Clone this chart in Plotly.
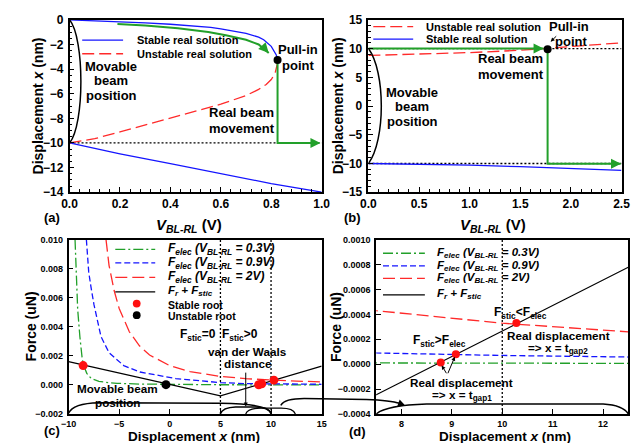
import plotly.graph_objects as go

W, H = 641, 443
FONT = "Liberation Sans"
BLUE = "#1515ff"
RED = "#ff2a2a"
GREEN = "#22a02a"

# ---------------- data (a) ----------------
a_v_stable_up = [0.0, 0.1, 0.2, 0.3, 0.4, 0.5, 0.56, 0.6, 0.65, 0.7, 0.75, 0.77, 0.8, 0.81, 0.82, 0.825]
a_x_stable_up = [0.0, -0.06, -0.13, -0.24, -0.36, -0.5, -0.62, -0.74, -0.9, -1.1, -1.4, -1.62, -2.15, -2.45, -2.85, -3.27]
a_v_unstable = [0.0, 0.1, 0.2, 0.3, 0.4, 0.5, 0.6, 0.7, 0.75, 0.78, 0.8, 0.815, 0.825]
a_x_unstable = [-10.0, -9.65, -9.1, -8.55, -8.0, -7.45, -6.85, -6.15, -5.65, -5.25, -4.85, -4.35, -3.5]
a_v_stable_low = [0.0, 0.2, 0.4, 0.6, 0.8, 1.0]
a_x_stable_low = [-10.0, -10.88, -11.68, -12.5, -13.3, -14.0]
a_v_green_up = [0.19, 0.3, 0.43, 0.55, 0.62, 0.7, 0.75, 0.79]
a_x_green_up = [-0.34, -0.45, -0.68, -0.98, -1.25, -1.62, -2.0, -2.7]
a_v_green_down = [0.825, 0.825, 0.99]
a_x_green_down = [-3.3, -10.0, -10.0]
a_pullin = (0.825, -3.27)
a_gap = -10.0

# ---------------- data (b) ----------------
b_v_unstable = [0.0, 0.5, 1.0, 1.5, 2.0, 2.5]
b_x_unstable = [8.8, 9.0, 9.3, 9.7, 10.3, 11.0]
b_v_stable = [0.0, 0.5, 1.0, 1.5, 2.0, 2.5]
b_x_stable = [-10.0, -10.1, -10.3, -10.55, -10.85, -11.2]
b_v_green_up = [0.0, 1.73]
b_x_green_up = [10.0, 10.0]
b_v_green_down = [1.77, 1.77, 2.49]
b_x_green_down = [9.9, -10.05, -10.05]
b_pullin = (1.77, 9.9)
b_gaps = [10.0, -10.0]

# ---------------- data (c)/(d) ----------------
f_x_03 = [-9.36, -9.2, -9.1, -8.88, -8.65, -8.5, -8.2, -7.76, -7.0, -6.0, -5.2, -3.0, 0.0, 5.0, 7.5, 10.0, 12.5, 15.0]
f_y_03 = [0.0100, 0.0075, 0.0052, 0.0033, 0.00178, 0.00132, 0.0008, 0.00044, 0.00025, 0.00015,
          0.00011, 0.00006, 0.00003, 0.000013, 0.0000099, 0.0000076, 0.000006, 0.0000048]
f_x_09 = [-8.24, -8.01, -7.8, -7.5, -6.8, -6.0, -4.55, -2.95, 0.58, 2.5, 5.0, 7.5, 10.0, 12.5, 15.0]
f_y_09 = [0.0100, 0.00778, 0.0068, 0.00556, 0.00333, 0.00222, 0.00133, 0.00089, 0.00044, 0.0003,
          0.00016, 0.00009, 0.00007, 0.000055, 0.000045]
f_x_2 = [-6.3, -6.0, -5.5, -5.0, -4.0, -3.0, -2.0, 0.0, 2.0, 5.0, 7.5, 10.0, 12.5, 15.0]
f_y_2 = [0.0100, 0.00822, 0.0065, 0.00526, 0.00366, 0.00269, 0.00206, 0.00132, 0.000914,
         0.000585, 0.00043, 0.000329, 0.00026, 0.000211]
fr_x = [-10.0, 5.0, 15.0]
fr_y = [0.0016, -0.000757, 0.00129]
stable_x = [-8.56, 8.78, 9.08, 10.28]
stable_y = [0.00133, 0.000013, 0.00008, 0.00033]
unstable_x = [-0.38]
unstable_y = [0.00002]
c_vlines = [5.0, 10.0]
d_vlines = [10.0]

def px(x):
    return x / W

def py(y):
    return 1 - y / H

fig = go.Figure()

def line(x, y, color, dash="solid", width=1.3, xa="x", ya="y"):
    fig.add_trace(go.Scatter(x=x, y=y, mode="lines", xaxis=xa, yaxis=ya, showlegend=False,
                             line=dict(color=color, dash=dash, width=width), hoverinfo="skip"))

def dots(x, y, color, size, xa, ya):
    fig.add_trace(go.Scatter(x=x, y=y, mode="markers", xaxis=xa, yaxis=ya, showlegend=False,
                             marker=dict(color=color, size=size, line=dict(width=0)), hoverinfo="skip"))

DOT = "2px,2px"
RDASH = "12px,5px"
BDASH = "6px,3px"
GDASHDOT = "10px,3px,2px,3px"

# (a)
line([0, 1.0], [a_gap, a_gap], "black", DOT, 1.3, "x", "y")
line(a_v_stable_low, a_x_stable_low, BLUE, "solid", 1.3, "x", "y")
line(a_v_unstable, a_x_unstable, RED, RDASH, 1.3, "x", "y")
line(a_v_stable_up, a_x_stable_up, BLUE, "solid", 1.3, "x", "y")
line(a_v_green_up, a_x_green_up, GREEN, "solid", 2, "x", "y")
line(a_v_green_down, a_x_green_down, GREEN, "solid", 2, "x", "y")
dots([a_pullin[0]], [a_pullin[1]], "black", 8, "x", "y")

# (b)
for g in b_gaps:
    line([0, 2.5], [g, g], "black", DOT, 1.3, "x2", "y2")
line(b_v_stable, b_x_stable, BLUE, "solid", 1.3, "x2", "y2")
line(b_v_unstable, b_x_unstable, RED, RDASH, 1.3, "x2", "y2")
line(b_v_green_up, b_x_green_up, GREEN, "solid", 2, "x2", "y2")
line(b_v_green_down, b_x_green_down, GREEN, "solid", 2, "x2", "y2")
dots([b_pullin[0]], [b_pullin[1]], "black", 8, "x2", "y2")

# (c) and (d)
for xa, ya, vls, yr in (("x3", "y3", c_vlines, [-0.002, 0.010]), ("x4", "y4", d_vlines, [-0.0004, 0.001])):
    for v in vls:
        line([v, v], yr, "black", DOT, 1.3, xa, ya)
    line(f_x_03, f_y_03, GREEN, GDASHDOT, 1.3, xa, ya)
    line(f_x_09, f_y_09, BLUE, BDASH, 1.3, xa, ya)
    line(f_x_2, f_y_2, RED, RDASH, 1.3, xa, ya)
    line(fr_x, fr_y, "black", "solid", 1.2, xa, ya)
    dots(stable_x, stable_y, "#ff1010", 9 if xa == "x3" else 8, xa, ya)
    if xa == "x3":
        dots(unstable_x, unstable_y, "black", 9, xa, ya)

tickfont_big = dict(family=FONT, size=12, color="black", weight="bold")
tickfont_small = dict(family=FONT, size=9, color="black", weight="bold")

def ax(domain, rng, dtick, fmt, tf, minor=None, anchor=None, tick0=None, standoff=2):
    d = dict(domain=domain, range=rng, dtick=dtick, tickformat=fmt, tickfont=tf,
             showline=True, linecolor="black", linewidth=1.5, mirror=True,
             ticks="inside", ticklen=5, tickcolor="black", tickwidth=1,
             showgrid=False, zeroline=False, anchor=anchor, ticklabelstandoff=standoff)
    if tick0 is not None:
        d["tick0"] = tick0
    if minor:
        d["minor"] = dict(dtick=minor, ticks="inside", ticklen=3, tickcolor="black", showgrid=False)
    return d

yA = [py(183), py(5)]
yC = [py(412), py(232)]
fig.update_layout(
    width=W, height=H, margin=dict(l=0, r=0, t=0, b=0),
    paper_bgcolor="white", plot_bgcolor="white", showlegend=False,
    xaxis=ax([px(55), px(314)], [0, 1.0], 0.2, ".1f", tickfont_big, 0.04, "y", standoff=0),
    yaxis=ax(yA, [-14, 0], 2, "d", tickfont_big, 0.5, "x"),
    xaxis2=ax([px(362), px(622)], [0, 2.5], 0.5, ".1f", tickfont_big, 0.1, "y2", standoff=0),
    yaxis2=ax(yA, [-15, 15], 5, "d", tickfont_big, 1, "x2"),
    xaxis3=ax([px(54), px(314)], [-10, 15], 5, "d", tickfont_small, None, "y3", standoff=0),
    yaxis3=ax(yC, [-0.002, 0.010], 0.002, ".3f", tickfont_small, None, "x3"),
    xaxis4=ax([px(370), px(629)], [7.5, 12.5], 1, "d", tickfont_small, None, "y4", 8, standoff=0),
    yaxis4=ax(yC, [-0.0004, 0.001], 0.0002, ".4f", tickfont_small, None, "x4"),
)

shapes = []
# brackets and braces
shapes.append(dict(type="path", xref="x", yref="y", path="M 0,0 C 0.06,-1.5 0.06,-8.5 0,-10",
                   line=dict(color="black", width=1.5)))
shapes.append(dict(type="path", xref="x2", yref="y2", path="M 0,10 C 0.17,6 0.17,-6 0,-10",
                   line=dict(color="black", width=1.5)))
shapes.append(dict(type="path", xref="x3", yref="y3",
                   path="M -10,-0.00195 Q -9.6,-0.00126 -7,-0.00122 L 5,-0.00126 Q 9.6,-0.0013 10,-0.0019",
                   line=dict(color="black", width=1.5)))
shapes.append(dict(type="path", xref="x3", yref="y3",
                   path="M 5,-0.002 Q 5.2,-0.00155 6.5,-0.00152 L 8.5,-0.00152 Q 9.8,-0.00155 10,-0.002",
                   line=dict(color="black", width=1.3)))
shapes.append(dict(type="path", xref="x3", yref="y3",
                   path="M 7.5,-0.002 Q 7.7,-0.0016 9,-0.0016 L 11,-0.0016 Q 12.2,-0.0016 12.4,-0.002",
                   line=dict(color="black", width=1.3)))
shapes.append(dict(type="path", xref="x4", yref="y4",
                   path="M 7.5,-0.0004 Q 7.7,-0.00033 8.5,-0.00032 L 12,-0.00032 Q 12.4,-0.00033 12.5,-0.0004",
                   line=dict(color="black", width=1.5)))
# connecting curve from (c) to (d)
shapes.append(dict(type="path", xref="paper", yref="paper",
                   path=f"M {px(272)},{py(403)} Q {px(276)},{py(396)} {px(296)},{py(396)} L {px(360)},{py(397)} Q {px(385)},{py(398)} {px(394)},{py(401)}",
                   line=dict(color="black", width=1.5)))

# manual legends
def leg_line(x0, x1, y, color, dash):
    shapes.append(dict(type="line", xref="paper", yref="paper", x0=px(x0), x1=px(x1), y0=py(y), y1=py(y),
                       line=dict(color=color, dash=dash, width=1.3)))

def leg_dot(x, y, color, r=4):
    shapes.append(dict(type="circle", xref="paper", yref="paper", x0=px(x - r), x1=px(x + r),
                       y0=py(y + r), y1=py(y - r), fillcolor=color, line=dict(color=color, width=0)))

leg_line(68, 110, 26, BLUE, "solid")
leg_line(68, 110, 40, RED, RDASH)
leg_line(367, 408, 12, RED, RDASH)
leg_line(367, 408, 25, BLUE, "solid")
leg_line(102, 143, 242, GREEN, GDASHDOT)
leg_line(102, 143, 256, BLUE, BDASH)
leg_line(102, 143, 271, RED, RDASH)
leg_line(102, 143, 286, "black", "solid")
leg_dot(124, 298, "#ff1010")
leg_dot(124, 310, "black")
leg_line(377, 420, 246, GREEN, GDASHDOT)
leg_line(377, 420, 259, BLUE, BDASH)
leg_line(377, 420, 272, RED, RDASH)
leg_line(377, 420, 289, "black", "solid")

fig.update_layout(shapes=shapes)

ann = []

def txt(x, y, text, size, xanchor="center", angle=0, weight="bold"):
    ann.append(dict(x=px(x), y=py(y), xref="paper", yref="paper", text=text, showarrow=False,
                    xanchor=xanchor, yanchor="middle", textangle=angle,
                    font=dict(family=FONT, size=size, color="black", weight=weight)))

def arrow(x, y, axv, ayv, xref, yref, color, width=1.5, head=2, size=1.0):
    ann.append(dict(x=x, y=y, ax=axv, ay=ayv, xref=xref, yref=yref, axref=xref, ayref=yref, text="",
                    showarrow=True, arrowhead=head, arrowsize=size, arrowwidth=width, arrowcolor=color,
                    standoff=0, startstandoff=0))

# axis titles
xt_v = "<i>V<sub>BL-RL</sub></i> (V)"
disp = "Displacement <i>x</i> (nm)"
txt(23, 94, disp, 14, angle=-90)
txt(178, 217, xt_v, 15)
txt(331, 94, disp, 14, angle=-90)
txt(490, 217, xt_v, 15)
txt(15, 322, "Force (uN)", 14, angle=-90)
txt(183, 435.5, disp, 13.5)
txt(329, 322, "Force (uN)", 14, angle=-90)
txt(502, 435.5, disp, 13.5)
# panel labels
txt(37, 209, "(a)", 13)
txt(346, 209, "(b)", 13)
txt(37, 429, "(c)", 13)
txt(351, 430, "(d)", 13)

# legend texts
txt(122, 26, "Stable real solution", 11, "left")
txt(122, 40, "Unstable real solution", 11, "left")
txt(419, 12, "Unstable real solution", 11, "left")
txt(419, 25, "Stable real solution", 11, "left")
fe = "<i>F<sub>elec</sub> (V<sub>BL-RL</sub> = {}V)</i>"
fr = "<i>F<sub>r</sub> + F<sub>stic</sub></i>"
for v, yy in zip(["0.3", "0.9", "2"], [242, 256, 270.5]):
    txt(154, yy, fe.format(v), 12, "left")
txt(154, 284.5, fr, 11.5, "left")
txt(154, 299, "Stable root", 10.5, "left")
txt(154, 311, "Unstable root", 10.5, "left")
for v, yy in zip(["0.3", "0.9", "2"], [246, 259, 272]):
    txt(430, yy, fe.format(v), 11.5, "left")
txt(430, 288, fr, 11.5, "left")

# panel (a) annotations
txt(290, 36, "Pull-in", 13)
txt(290, 52, "point", 13)
txt(98, 53, "Movable", 13)
txt(98, 68, "beam", 13)
txt(98, 83, "position", 13)
txt(232, 101, "Real beam", 13)
txt(232, 117, "movement", 13)
# panel (b) annotations
txt(568, 12, "Pull-in", 13)
txt(570, 27, "point", 13)
txt(508, 45, "Real beam", 13)
txt(508, 61, "movement", 13)
txt(407, 80, "Movable", 13)
txt(407, 95, "beam", 13)
txt(407, 110, "position", 13)
# panel (c) annotations
txt(187, 330, "F<sub>stic</sub>=0", 12)
txt(230, 330, "F<sub>stic</sub>>0", 12)
txt(238, 347, "van der Waals", 11.7)
txt(238, 360, "distance", 11.7)
txt(104, 386, "Movable beam", 11.7)
txt(104, 400, "position", 11.7)
# panel (d) annotations
txt(518, 308, "F<sub>stic</sub><F<sub>elec</sub>", 12)
txt(557, 331, "Real displacement", 11.7)
txt(557, 344, "=> x = t<sub>gap2</sub>", 11.7)
txt(435, 337, "F<sub>stic</sub>>F<sub>elec</sub>", 12)
txt(458, 379, "Real displacement", 11.7)
txt(458, 393, "=> x = t<sub>gap1</sub>", 11.7)

# arrows
arrow(0.79, -2.7, 0.772, -2.3, "x", "y", GREEN, 2, 2, 1.0)
arrow(0.995, -10.0, 0.95, -10.0, "x", "y", GREEN, 2, 2, 1.0)
arrow(1.73, 10.0, 1.62, 10.0, "x2", "y2", GREEN, 2, 2, 1.0)
arrow(2.495, -10.05, 2.4, -10.05, "x2", "y2", GREEN, 2, 2, 1.0)
arrow(1.80, 11.2, 1.87, 12.4, "x2", "y2", "black", 1, 2, 0.8)
arrow(7.5, -0.00148, 7.5, 0.00095, "x3", "y3", "black", 1, 2, 0.8)
arrow(8.80, -0.00001, 8.91, -0.000085, "x4", "y4", "black", 1, 2, 0.8)
arrow(9.06, 0.00006, 8.91, -0.000085, "x4", "y4", "black", 1, 2, 0.8)
ann.append(dict(x=px(400), y=py(403.5), ax=-8, ay=-3, xref="paper", yref="paper",
                axref="pixel", ayref="pixel", text="", showarrow=True, arrowhead=2, arrowsize=1,
                arrowwidth=1.5, arrowcolor="black", standoff=0))

fig.update_layout(annotations=ann)
fig.write_html("out.html")
